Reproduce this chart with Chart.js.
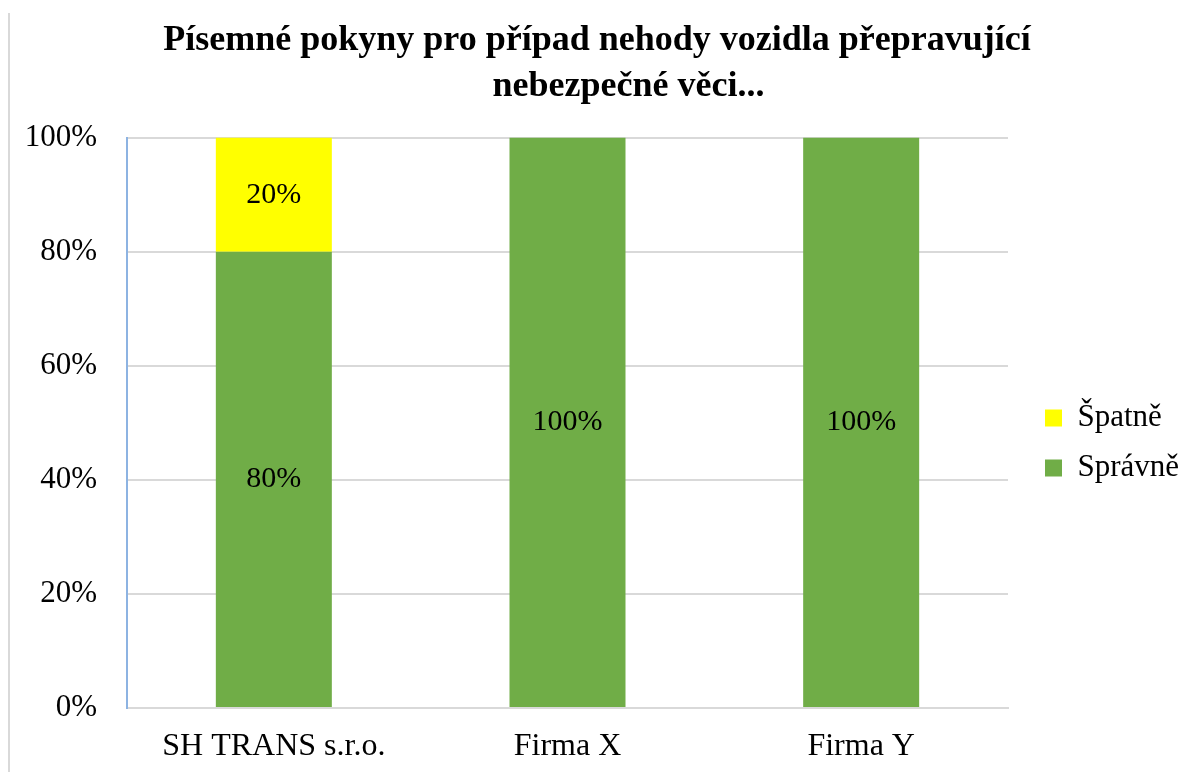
<!DOCTYPE html>
<html lang="cs">
<head>
<meta charset="UTF-8">
<title>Písemné pokyny</title>
<script src="https://cdn.jsdelivr.net/npm/chart.js@4.4.1/dist/chart.umd.min.js"></script>
<style>
    html, body { margin: 0; padding: 0; background: #ffffff; }
    #obal { position: relative; width: 1194px; height: 772px; }
    #okraj { position: absolute; left: 8px; top: 13px; bottom: 0; width: 2px; background: #d9d9d9; }
</style>
</head>
<body>
<div id="obal">
    <canvas id="graf" width="1194" height="772"></canvas>
    <div id="okraj"></div>
</div>
<script>
// Data grafu
const firmy = ["SH TRANS s.r.o.", "Firma X", "Firma Y"];
const spravne = [80, 100, 100];
const spatne = [20, 0, 0];
// druhý řádek nadpisu je v originále mírně vpravo
const nazev = ["Písemné pokyny pro případ nehody vozidla přepravující", "\u00a0".repeat(7) + "nebezpečné věci..."];

const pismo = "'Liberation Serif', 'Times New Roman', serif";

// Popisky hodnot uprostřed sloupců
const popiskyHodnot = {
    id: "popiskyHodnot",
    afterDatasetsDraw(chart) {
        const ctx = chart.ctx;
        ctx.save();
        ctx.font = "30px " + pismo;
        ctx.fillStyle = "#000000";
        ctx.textAlign = "center";
        ctx.textBaseline = "middle";
        chart.data.datasets.forEach((ds, i) => {
            chart.getDatasetMeta(i).data.forEach((bar, j) => {
                if (!ds.data[j]) return;
                const p = bar.getCenterPoint();
                ctx.fillText(ds.data[j] + "%", p.x, p.y);
            });
        });
        ctx.restore();
    }
};

// Legenda vpravo - pevná šířka a posun
const posunLegendy = {
    id: "posunLegendy",
    beforeLayout(chart) {
        const lg = chart.legend;
        if (lg && !lg._upraveno) {
            const puvodni = lg.fit.bind(lg);
            lg.fit = function () { puvodni(); this.width = 186; };
            lg._upraveno = true;
        }
    },
    afterLayout(chart) {
        const lg = chart.legend;
        lg.left += 18; lg.right += 18;
        lg.top += 57; lg.bottom += 57;
    }
};

const ctx = document.getElementById("graf").getContext("2d");
new Chart(ctx, {
    type: "bar",
    data: {
        labels: firmy,
        datasets: [
            {
                label: "Správně",
                data: spravne,
                backgroundColor: "#70ad47",
                barPercentage: 0.395,
                categoryPercentage: 1.0
            },
            {
                label: "Špatně",
                data: spatne,
                backgroundColor: "#ffff00",
                barPercentage: 0.395,
                categoryPercentage: 1.0
            }
        ]
    },
    options: {
        responsive: false,
        animation: false,
        layout: { padding: 0 },
        plugins: {
            title: {
                display: true,
                text: nazev,
                color: "#000000",
                font: { family: pismo, size: 36, weight: "bold", lineHeight: 1.3 },
                padding: { top: 17, bottom: 27 }
            },
            legend: {
                position: "right",
                reverse: true,
                labels: {
                    color: "#000000",
                    font: { family: pismo, size: 31 },
                    boxWidth: 17,
                    boxHeight: 17,
                    padding: 19
                }
            },
            tooltip: { enabled: false }
        },
        scales: {
            x: {
                stacked: true,
                grid: { display: false },
                border: { color: "#d9d9d9", width: 2 },
                ticks: { color: "#000000", font: { family: pismo, size: 32 }, padding: 11 },
                afterFit(s) { s.height = 64; }
            },
            y: {
                stacked: true,
                min: 0,
                max: 100,
                ticks: {
                    stepSize: 20,
                    color: "#000000",
                    font: { family: pismo, size: 31 },
                    padding: 30,
                    callback: v => v + "%"
                },
                grid: { color: "#d9d9d9", lineWidth: 2, drawTicks: false },
                border: { color: "#8db3e2", width: 2 },
                afterFit(s) { s.width = 127; }
            }
        }
    },
    plugins: [popiskyHodnot, posunLegendy]
});
</script>
</body>
</html>
